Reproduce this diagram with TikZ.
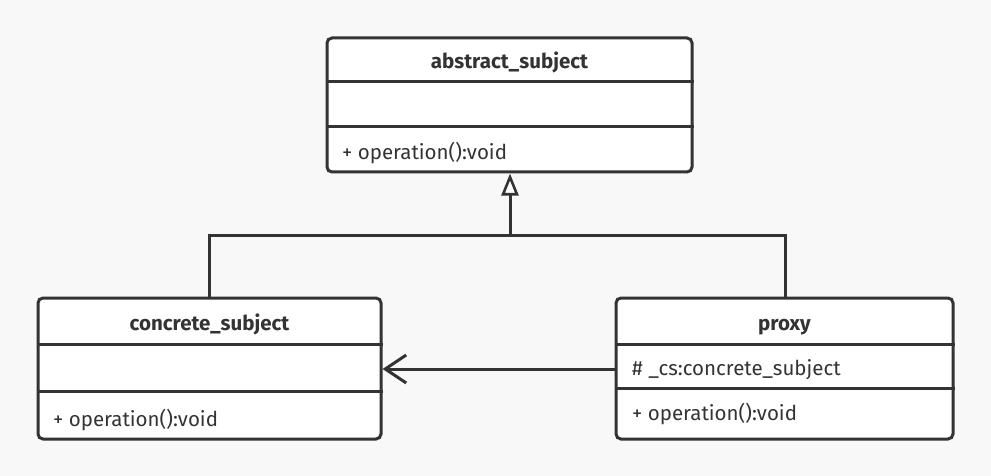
\documentclass[tikz,border=0pt]{standalone}
\usepackage{fontspec}
\setmainfont{Fira Sans}
\usetikzlibrary{arrows.meta}
\definecolor{ink}{HTML}{333333}
\definecolor{bg}{HTML}{F8F8F8}
\begin{document}
\begin{tikzpicture}[x=1pt,y=-1pt,
  classbox/.style={draw=ink, line width=3pt, fill=white, rounded corners=5pt, inner sep=0pt},
  divider/.style={draw=ink, line width=3pt},
  conn/.style={draw=ink, line width=3pt},
  titletext/.style={font=\fontsize{20.5}{24}\selectfont\bfseries, text=ink, inner sep=0pt},
  membertext/.style={font=\fontsize{20.5}{24}\selectfont, text=ink, anchor=base west, inner sep=0pt}]
\fill[bg] (0,0) rectangle (991,476);
\useasboundingbox (0,0) rectangle (991,476);
% classes
\node[classbox, minimum width=365pt, minimum height=134pt] (abs) at (509.5,105) {};
\node[classbox, minimum width=343pt, minimum height=141pt] (conc) at (209.5,368.5) {};
\node[classbox, minimum width=337pt, minimum height=141pt] (proxy) at (784.5,368.5) {};
% dividers
\draw[divider] (abs.west |- 0,82) -- (abs.east |- 0,82);
\draw[divider] (abs.west |- 0,127) -- (abs.east |- 0,127);
\draw[divider] (conc.west |- 0,344) -- (conc.east |- 0,344);
\draw[divider] (conc.west |- 0,391) -- (conc.east |- 0,391);
\draw[divider] (proxy.west |- 0,344) -- (proxy.east |- 0,344);
\draw[divider] (proxy.west |- 0,388) -- (proxy.east |- 0,388);
% texts
\node[titletext, anchor=base] (absT) at (509.5,69) {abstract\_subject};
\node[membertext] (absM) at (342,160) {+ operation():void};
\node[titletext, anchor=base] (concT) at (209.5,330) {concrete\_subject};
\node[membertext] (concM) at (53,426) {+ operation():void};
\node[titletext, anchor=base] (proxyT) at (784.5,330) {proxy};
\node[membertext] (proxyA) at (632,375) {\# \_cs:concrete\_subject};
\node[membertext] (proxyM) at (632,420) {+ operation():void};
% generalization
\coordinate (jl) at (209,235);
\coordinate (jr) at (785,235);
\coordinate (jm) at (510,235);
\draw[conn] (conc.north -| jl) -- (jl) -- (jr) -- (proxy.north -| jr);
\draw[conn, -{Triangle[open, length=22pt, width=17pt, fill=white, line width=2.6pt]}] (jm) -- (abs.south -| jm);
% association
\draw[conn, -{Straight Barb[length=21pt, width=28pt, line width=3pt]}] (proxy.west |- 0,369) -- (conc.east |- 0,369);
\end{tikzpicture}
\end{document}
